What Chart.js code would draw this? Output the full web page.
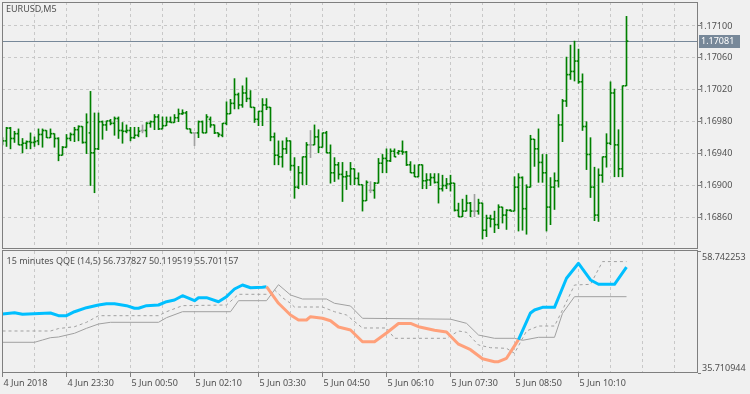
<!DOCTYPE html>
<html><head><meta charset="utf-8">
<script src="https://cdn.jsdelivr.net/npm/chart.js@4"></script>
<style>
html,body{margin:0;padding:0;background:#f0f0f0;width:750px;height:394px;overflow:hidden;}
canvas{position:absolute;left:0;}
#c1{top:0;} #c2{top:250px;}
</style></head><body>
<canvas id="c1" width="750" height="250"></canvas>
<canvas id="c2" width="750" height="144"></canvas>
<script>
// ---------- data ----------
const symbolLabel = 'EURUSD,M5';
const opens = [1.16955,1.16956,1.16972,1.16959,1.16965,1.16951,1.16953,1.16955,1.16954,1.16956,1.16964,1.16969,1.16960,1.16965,1.16959,1.16938,1.16948,1.16959,1.16964,1.16970,1.16974,1.16954,1.16966,1.16941,1.16946,1.16980,1.16976,1.16981,1.16978,1.16984,1.16969,1.16968,1.16969,1.16960,1.16963,1.16969,1.16969,1.16978,1.16980,1.16986,1.16971,1.16975,1.16980,1.16979,1.16985,1.16990,1.16991,1.16971,1.16966,1.16966,1.16980,1.16966,1.16983,1.16976,1.16966,1.16963,1.16978,1.16990,1.17003,1.17014,1.17001,1.17016,1.17009,1.16998,1.16983,1.16993,1.17001,1.16998,1.16961,1.16938,1.16936,1.16946,1.16956,1.16925,1.16898,1.16916,1.16936,1.16951,1.16951,1.16961,1.16948,1.16966,1.16941,1.16916,1.16926,1.16914,1.16911,1.16912,1.16921,1.16909,1.16901,1.16881,1.16894,1.16894,1.16903,1.16928,1.16934,1.16931,1.16943,1.16941,1.16943,1.16942,1.16926,1.16916,1.16911,1.16926,1.16906,1.16907,1.16910,1.16904,1.16896,1.16900,1.16902,1.16903,1.16869,1.16861,1.16868,1.16878,1.16868,1.16868,1.16878,1.16844,1.16859,1.16858,1.16851,1.16873,1.16863,1.16869,1.16868,1.16898,1.16910,1.16871,1.16898,1.16958,1.16946,1.16929,1.16916,1.16873,1.16898,1.16906,1.16976,1.17006,1.17039,1.17043,1.17056,1.17030,1.16974,1.16939,1.16898,1.16863,1.16913,1.16936,1.16953,1.17016,1.16951,1.16921,1.17025];
const highs = [1.16960,1.16973,1.16973,1.16968,1.16971,1.16959,1.16956,1.16966,1.16961,1.16971,1.16971,1.16969,1.16971,1.16965,1.16960,1.16949,1.16964,1.16966,1.16973,1.16975,1.16974,1.16990,1.17018,1.16991,1.16991,1.16981,1.16981,1.16983,1.16986,1.16986,1.16979,1.16976,1.16973,1.16973,1.16973,1.16976,1.16979,1.16981,1.16989,1.16989,1.16986,1.16986,1.16986,1.16989,1.16996,1.16995,1.16993,1.16971,1.16966,1.16981,1.16981,1.16989,1.16986,1.16976,1.16966,1.16978,1.17005,1.17008,1.17034,1.17016,1.17025,1.17035,1.17019,1.16998,1.16993,1.17009,1.17009,1.16998,1.16966,1.16956,1.16956,1.16960,1.16956,1.16935,1.16924,1.16936,1.16954,1.16969,1.16976,1.16970,1.16966,1.16968,1.16951,1.16935,1.16929,1.16929,1.16918,1.16929,1.16921,1.16916,1.16901,1.16906,1.16905,1.16904,1.16934,1.16939,1.16946,1.16946,1.16946,1.16944,1.16956,1.16943,1.16930,1.16926,1.16926,1.16926,1.16915,1.16915,1.16915,1.16915,1.16913,1.16909,1.16913,1.16903,1.16878,1.16883,1.16888,1.16879,1.16889,1.16883,1.16878,1.16863,1.16863,1.16868,1.16876,1.16873,1.16870,1.16870,1.16911,1.16915,1.16911,1.16901,1.16963,1.16958,1.16971,1.16939,1.16939,1.16910,1.16916,1.16989,1.17008,1.17061,1.17076,1.17081,1.17071,1.17040,1.16980,1.16960,1.16923,1.16921,1.16936,1.16965,1.17030,1.17021,1.16970,1.17025,1.17112];
const lows = [1.16951,1.16949,1.16946,1.16954,1.16951,1.16941,1.16946,1.16946,1.16949,1.16951,1.16948,1.16960,1.16960,1.16948,1.16931,1.16938,1.16948,1.16956,1.16955,1.16956,1.16953,1.16940,1.16900,1.16891,1.16945,1.16958,1.16969,1.16976,1.16963,1.16959,1.16953,1.16966,1.16956,1.16959,1.16961,1.16966,1.16961,1.16973,1.16970,1.16970,1.16971,1.16975,1.16979,1.16979,1.16980,1.16989,1.16971,1.16966,1.16950,1.16960,1.16966,1.16966,1.16973,1.16965,1.16961,1.16961,1.16976,1.16990,1.16996,1.16996,1.16998,1.17005,1.16998,1.16979,1.16975,1.16975,1.16995,1.16956,1.16926,1.16926,1.16923,1.16940,1.16919,1.16884,1.16896,1.16901,1.16901,1.16935,1.16951,1.16941,1.16948,1.16941,1.16903,1.16905,1.16908,1.16880,1.16895,1.16901,1.16901,1.16901,1.16868,1.16881,1.16891,1.16884,1.16903,1.16916,1.16916,1.16930,1.16936,1.16939,1.16939,1.16925,1.16916,1.16911,1.16911,1.16896,1.16896,1.16900,1.16903,1.16878,1.16893,1.16896,1.16893,1.16868,1.16861,1.16861,1.16868,1.16861,1.16861,1.16864,1.16833,1.16836,1.16848,1.16841,1.16846,1.16853,1.16845,1.16868,1.16868,1.16843,1.16844,1.16839,1.16898,1.16924,1.16904,1.16904,1.16843,1.16851,1.16870,1.16898,1.16955,1.16999,1.17033,1.17031,1.17028,1.16969,1.16920,1.16885,1.16856,1.16855,1.16904,1.16923,1.16951,1.16911,1.16911,1.16911,1.17025];
const closes = [1.16956,1.16972,1.16959,1.16965,1.16951,1.16953,1.16955,1.16954,1.16955,1.16964,1.16969,1.16960,1.16965,1.16959,1.16938,1.16948,1.16959,1.16964,1.16970,1.16974,1.16954,1.16979,1.16941,1.16946,1.16980,1.16976,1.16981,1.16978,1.16984,1.16969,1.16968,1.16969,1.16960,1.16963,1.16968,1.16969,1.16978,1.16980,1.16986,1.16971,1.16975,1.16980,1.16979,1.16985,1.16990,1.16991,1.16971,1.16966,1.16966,1.16980,1.16966,1.16986,1.16976,1.16966,1.16964,1.16978,1.16990,1.17003,1.17014,1.17001,1.17016,1.17009,1.16998,1.16983,1.16993,1.17001,1.16998,1.16961,1.16938,1.16936,1.16946,1.16956,1.16925,1.16898,1.16916,1.16936,1.16951,1.16951,1.16961,1.16948,1.16966,1.16941,1.16916,1.16926,1.16914,1.16911,1.16912,1.16921,1.16909,1.16901,1.16881,1.16904,1.16894,1.16903,1.16928,1.16934,1.16931,1.16943,1.16936,1.16943,1.16942,1.16926,1.16916,1.16911,1.16926,1.16906,1.16907,1.16910,1.16904,1.16896,1.16900,1.16902,1.16903,1.16869,1.16861,1.16868,1.16878,1.16868,1.16868,1.16878,1.16844,1.16859,1.16858,1.16851,1.16873,1.16863,1.16869,1.16868,1.16898,1.16910,1.16871,1.16898,1.16958,1.16946,1.16929,1.16916,1.16873,1.16898,1.16906,1.16976,1.17006,1.17039,1.17043,1.17056,1.17030,1.16974,1.16939,1.16898,1.16863,1.16913,1.16936,1.16953,1.17016,1.16951,1.16921,1.17025,1.17081];
const priceTicks = [1.16860,1.16900,1.16940,1.16980,1.17020,1.17060,1.17100];
const timeLabels = ['4 Jun 2018','4 Jun 23:30','5 Jun 00:50','5 Jun 02:10','5 Jun 03:30','5 Jun 04:50','5 Jun 06:10','5 Jun 07:30','5 Jun 08:50','5 Jun 10:10'];

const qqeTitle = '15 minutes QQE (14,5)';
const qqeLast = ['56.737827','50.119519','55.701157'];
const qqeScale = [35.710944, 58.742253];
const qqeX = [0,3,5,12,14,16,18,21,24,26,28,31,33,34,36,39,41,43,45,48,49,51,54,56,58,60,62,65,66,69,72,74,76,77,80,82,84,87,90,93,96,99,102,104,108,111,114,117,120,123,124,126,129,132,133,135,138,141,144,147,149,153,156];
const qqeMain = [46.85,47.09,46.80,47.04,46.53,46.53,47.28,48.04,48.55,48.79,48.79,48.42,47.93,47.93,48.42,48.55,49.17,49.50,50.30,49.36,49.93,49.93,49.17,50.12,51.57,52.32,51.81,51.89,52.00,48.87,46.66,45.72,45.72,46.34,46.04,45.58,44.39,43.83,41.62,41.62,43.26,45.06,45.06,44.45,43.77,43.45,41.15,40.11,38.39,37.84,37.84,38.49,42.00,47.04,47.60,48.11,48.11,53.59,56.42,53.27,52.46,52.46,55.70];
const qqeDownFrom = 66, qqeDownTo = 129;
const sigX = [0,12,14,18,21,24,39,41,45,56,59,66,68,70,72,73,80,83,86,90,96,98,111,114,116,119,122,126,128,131,134,138,140,143,147,150,156];
const sigLine = [43.64,43.64,44.10,44.45,45.28,46.53,46.53,47.28,48.42,48.55,50.57,50.57,51.40,49.93,48.87,48.17,48.17,47.28,46.66,44.21,44.21,42.26,42.26,43.64,43.39,41.00,40.49,40.37,39.43,43.64,44.58,44.58,47.60,52.32,52.45,56.74,56.74];
const slowX = [0,8,10,12,14,18,21,24,27,39,41,45,57,59,66,69,72,75,81,83,87,90,112,116,119,123,128,130,134,138,140,143,156];
const slowLine = [41.51,41.51,41.94,42.38,42.51,43.21,44.15,44.96,45.28,45.28,46.15,47.28,47.28,49.36,49.36,52.38,50.44,49.68,49.68,48.87,48.36,46.04,45.87,45.09,42.88,42.26,42.26,41.88,42.45,42.45,46.98,50.12,50.12];

// ---------- setup ----------
Chart.defaults.font.family = "'Noto Sans', 'DejaVu Sans', sans-serif";
Chart.defaults.font.size = 9;
const TXT = '#505050', GRID = '#c8c8c8', FRAME = '#7f7f7f';
const N = closes.length;
const last = closes[N - 1];
const idx = closes.map((_, i) => i);
const barColors = idx.map(i => opens[i] === closes[i] ? '#a0a0a0' : '#008000');
const HALF = 0.000006;
const XMIN = -0.125, XMAX = 173.875;
const gridSteps = []; for (let v = 8; v <= 168; v += 8) gridSteps.push(v);
const gridStepsAll = [0].concat(gridSteps);
const zeroPad = s => { s.paddingLeft = 0; s.paddingRight = 0; s.paddingTop = 0; s.paddingBottom = 0; };

const barDs = (vals) => ({
  type: 'bar',
  data: idx.map(i => ({ x: i, y: vals(i) })),
  backgroundColor: barColors,
  borderWidth: 0,
  barThickness: 1,
  grouped: true
});

const mainDecor = {
  id: 'mainDecor',
  beforeDatasetsDraw(chart) {
    const { ctx, chartArea: a, scales: { y } } = chart;
    const py = Math.round(y.getPixelForValue(last)) + 0.5;
    ctx.save();
    ctx.strokeStyle = '#778899'; ctx.lineWidth = 1;
    ctx.beginPath(); ctx.moveTo(a.left, py); ctx.lineTo(a.right, py); ctx.stroke();
    ctx.restore();
  },
  afterDraw(chart) {
    const { ctx, chartArea: a, scales: { y } } = chart;
    ctx.save();
    ctx.strokeStyle = FRAME; ctx.lineWidth = 1;
    ctx.strokeRect(a.left + 0.5, a.top + 0.5, a.right - a.left - 1, a.bottom - a.top - 1);
    ctx.font = "9px 'Noto Sans'"; ctx.textBaseline = 'middle'; ctx.textAlign = 'left';
    ctx.fillStyle = TXT;
    ctx.fillText(symbolLabel, 6, 9.5);
    const py = Math.round(y.getPixelForValue(last));
    ctx.fillStyle = '#778899';
    ctx.fillRect(a.right + 1, py - 6, 41, 13);
    ctx.fillStyle = '#ffffff';
    ctx.fillText(last.toFixed(5), a.right + 3, py + 0.5);
    ctx.restore();
  }
};

new Chart(document.getElementById('c1'), {
  type: 'bar',
  data: {
    datasets: [
      barDs(i => [opens[i] - HALF, opens[i] + HALF]),
      barDs(i => [lows[i], highs[i]]),
      barDs(i => [closes[i] - HALF, closes[i] + HALF])
    ]
  },
  options: {
    responsive: false, animation: false, devicePixelRatio: 1,
    layout: { padding: { left: 2, top: 2, right: 0, bottom: 1 } },
    plugins: { legend: { display: false }, tooltip: { enabled: false } },
    scales: {
      x: {
        type: 'linear', min: XMIN, max: XMAX, offset: false,
        afterBuildTicks: s => { s.ticks = gridSteps.map(v => ({ value: v })); },
        afterFit: s => { s.height = 0; zeroPad(s); },
        ticks: { display: false },
        grid: { color: GRID, offset: false, drawTicks: false },
        border: { display: false, dash: [3, 3] }
      },
      y: {
        position: 'right', min: 1.168205, max: 1.1713,
        afterBuildTicks: s => { s.ticks = priceTicks.map(v => ({ value: v })); },
        afterFit: s => { s.width = 52; zeroPad(s); },
        ticks: { color: TXT, padding: -2, callback: v => Number(v).toFixed(5) },
        grid: { color: GRID, tickColor: FRAME, tickLength: 3, tickBorderDash: [] },
        border: { display: false, dash: [3, 3] }
      }
    }
  },
  plugins: [mainDecor]
});

const qqeDecor = {
  id: 'qqeDecor',
  afterDraw(chart) {
    const { ctx, chartArea: a } = chart;
    ctx.save();
    ctx.strokeStyle = FRAME; ctx.lineWidth = 1;
    ctx.strokeRect(a.left + 0.5, a.top - 0.5, a.right - a.left - 1, a.bottom - a.top);
    ctx.font = "9px 'Noto Sans'"; ctx.textBaseline = 'middle'; ctx.textAlign = 'left';
    ctx.fillStyle = TXT;
    ctx.fillText(qqeTitle + ' ' + qqeLast.join(' '), 6.5, 11.5);
    ctx.fillText(qqeScale[1].toFixed(6), a.right + 4, a.top + 6);
    ctx.fillText(qqeScale[0].toFixed(6), a.right + 4, a.bottom - 5);
    ctx.restore();
  }
};

const isLabelTick = v => v % 16 === 0 && v / 16 < timeLabels.length;

new Chart(document.getElementById('c2'), {
  type: 'line',
  data: {
    datasets: [
      {
        data: qqeX.map((x, k) => ({ x, y: qqeMain[k] })),
        borderColor: '#00bfff', borderWidth: 3, pointRadius: 0, tension: 0,
        borderJoinStyle: 'round',
        segment: { borderColor: c => (c.p0.parsed.x >= qqeDownFrom && c.p0.parsed.x < qqeDownTo) ? '#ffa07a' : '#00bfff' }
      },
      {
        data: sigX.map((x, k) => ({ x, y: sigLine[k] })),
        borderColor: '#a0a0a0', borderWidth: 1, borderDash: [3, 3], pointRadius: 0, tension: 0
      },
      {
        data: slowX.map((x, k) => ({ x, y: slowLine[k] })),
        borderColor: '#a0a0a0', borderWidth: 1, pointRadius: 0, tension: 0
      }
    ]
  },
  options: {
    responsive: false, animation: false, devicePixelRatio: 1,
    layout: { padding: { left: 2, top: 1, right: 0, bottom: 0 } },
    plugins: { legend: { display: false }, tooltip: { enabled: false } },
    scales: {
      x: {
        type: 'linear', min: XMIN, max: XMAX, offset: false,
        afterBuildTicks: s => { s.ticks = gridStepsAll.map(v => ({ value: v })); },
        afterFit: s => { s.height = 21; zeroPad(s); },
        ticks: {
          autoSkip: false, maxRotation: 0, minRotation: 0, align: 'start', labelOffset: 1, padding: 1,
          color: TXT,
          callback: v => isLabelTick(v) ? timeLabels[v / 16] : ''
        },
        grid: {
          color: c => (c.tick && c.tick.value === 0) ? 'rgba(0,0,0,0)' : GRID,
          tickColor: c => (c.tick && isLabelTick(c.tick.value)) ? FRAME : 'rgba(0,0,0,0)',
          tickLength: 4, tickBorderDash: [], offset: false
        },
        border: { display: false, dash: [3, 3] }
      },
      y: {
        position: 'right', min: qqeScale[0], max: qqeScale[1],
        afterBuildTicks: s => { s.ticks = qqeScale.map(v => ({ value: v })); },
        afterFit: s => { s.width = 52; zeroPad(s); },
        ticks: { display: false },
        grid: { drawOnChartArea: false, tickColor: FRAME, tickLength: 3 },
        border: { display: false }
      }
    }
  },
  plugins: [qqeDecor]
});
</script>
</body></html>
